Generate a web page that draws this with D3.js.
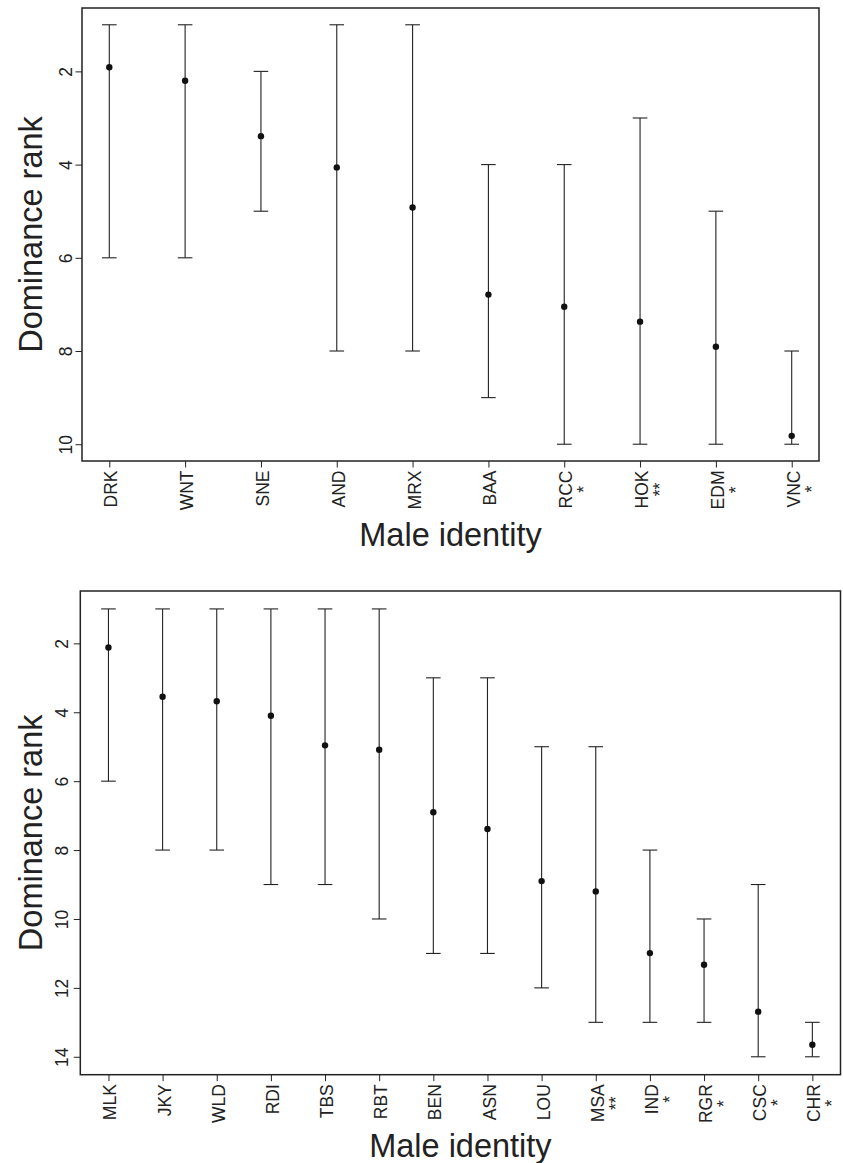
<!DOCTYPE html>
<html>
<head>
<meta charset="utf-8">
<script src="https://cdn.jsdelivr.net/npm/d3@7"></script>
<style>
  body { margin: 0; background: #fff; }
  svg { display: block; font-family: "Liberation Sans", Arial, Helvetica, sans-serif; }
</style>
</head>
<body>
<svg id="chart" width="843" height="1163"></svg>
<script>
// top panel
const topMales = ["DRK", "WNT", "SNE", "AND", "MRX", "BAA", "RCC", "HOK", "EDM", "VNC"];
const topStars = ["", "", "", "", "", "", "*", "**", "*", "*"];
const topMean  = [1.91, 2.2, 3.39, 4.06, 4.92, 6.79, 7.05, 7.37, 7.91, 9.82];
const topMin   = [1, 1, 2, 1, 1, 4, 4, 3, 5, 8];
const topMax   = [6, 6, 5, 8, 8, 9, 10, 10, 10, 10];
const topTicks = [2, 4, 6, 8, 10];

// bottom panel
const botMales = ["MLK", "JKY", "WLD", "RDI", "TBS", "RBT", "BEN", "ASN", "LOU", "MSA", "IND", "RGR", "CSC", "CHR"];
const botStars = ["", "", "", "", "", "", "", "", "", "**", "*", "*", "*", "*"];
const botMean  = [2.12, 3.55, 3.68, 4.1, 4.96, 5.09, 6.9, 7.39, 8.9, 9.2, 10.99, 11.33, 12.69, 13.65];
const botMin   = [1, 1, 1, 1, 1, 1, 3, 3, 5, 5, 8, 10, 9, 13];
const botMax   = [6, 8, 8, 9, 9, 10, 11, 11, 12, 13, 13, 13, 14, 14];
const botTicks = [2, 4, 6, 8, 10, 12, 14];

const svg = d3.select("#chart");
const ink = "#222";
const tickFont = 17.5;

function panel(cfg) {
  const n = cfg.males.length;
  const padX = 0.04 * (n - 1);
  const padY = 0.04 * (cfg.maxRank - 1);

  const x = d3.scaleLinear()
    .domain([1 - padX, n + padX])
    .range([cfg.left, cfg.right]);
  const y = d3.scaleLinear()
    .domain([1 - padY, cfg.maxRank + padY])
    .range([cfg.top, cfg.bottom]);

  const g = svg.append("g");

  // y axis
  const ya = g.append("g")
    .attr("transform", `translate(${cfg.left},0)`)
    .call(d3.axisLeft(y).tickValues(cfg.ticks).tickSize(6.5).tickSizeOuter(0));
  ya.select(".domain").remove();
  ya.selectAll(".tick line").attr("stroke", ink).attr("stroke-width", 1);
  ya.selectAll(".tick text").remove();
  ya.selectAll(".tick").append("text")
    .attr("transform", `translate(${cfg.yLabelX - cfg.left},0) rotate(-90)`)
    .attr("text-anchor", "middle")
    .attr("fill", ink)
    .attr("font-size", tickFont)
    .text(d => d);

  // x axis
  const idx = d3.range(1, n + 1);
  const xa = g.append("g")
    .attr("transform", `translate(0,${cfg.bottom})`)
    .call(d3.axisBottom(x).tickValues(idx).tickSize(6.5).tickSizeOuter(0).tickFormat(""));
  xa.select(".domain").remove();
  xa.selectAll(".tick line").attr("stroke", ink).attr("stroke-width", 1);
  xa.selectAll(".tick text").remove();

  const lab = xa.selectAll(".tick").append("g")
    .attr("transform", "translate(0,9.5) rotate(-90)");
  lab.append("text")
    .attr("text-anchor", "end")
    .attr("dy", "0.43em")
    .attr("fill", ink)
    .attr("font-size", tickFont)
    .text((d, i) => cfg.males[i]);
  lab.each(function(d, i) {
    const s = cfg.stars[i];
    if (!s) return;
    const len = this.querySelector("text").getComputedTextLength();
    d3.select(this).append("text")
      .attr("x", -len / 2)
      .attr("dy", "1.45em")
      .attr("text-anchor", "middle")
      .attr("fill", ink)
      .attr("font-size", tickFont)
      .text(s);
  });

  // error bars
  const bars = g.append("g").selectAll("g")
    .data(idx)
    .join("g");
  bars.append("line")
    .attr("x1", d => x(d)).attr("x2", d => x(d))
    .attr("y1", d => y(cfg.min[d - 1])).attr("y2", d => y(cfg.max[d - 1]))
    .attr("stroke", ink).attr("stroke-width", 1.1);
  bars.selectAll("line.cap")
    .data(d => [[d, cfg.min[d - 1]], [d, cfg.max[d - 1]]])
    .join("line")
    .attr("class", "cap")
    .attr("x1", d => x(d[0]) - 7.3).attr("x2", d => x(d[0]) + 7.3)
    .attr("y1", d => y(d[1])).attr("y2", d => y(d[1]))
    .attr("stroke", ink).attr("stroke-width", 1.1);
  bars.append("circle")
    .attr("cx", d => x(d))
    .attr("cy", d => y(cfg.mean[d - 1]))
    .attr("r", 3.2)
    .attr("fill", "#111");

  // box
  g.append("rect")
    .attr("x", cfg.left).attr("y", cfg.top)
    .attr("width", cfg.right - cfg.left)
    .attr("height", cfg.bottom - cfg.top)
    .attr("fill", "none")
    .attr("stroke", ink)
    .attr("stroke-width", 1.5);

  // titles
  g.append("text")
    .attr("x", (cfg.left + cfg.right) / 2)
    .attr("y", cfg.xTitleY)
    .attr("text-anchor", "middle")
    .attr("font-size", 32.5)
    .attr("fill", ink)
    .text("Male identity");
  g.append("text")
    .attr("transform", `translate(41.5,${(cfg.top + cfg.bottom) / 2}) rotate(-90)`)
    .attr("text-anchor", "middle")
    .attr("font-size", 32.5)
    .attr("fill", ink)
    .text("Dominance rank");
}

panel({
  males: topMales, stars: topStars, mean: topMean, min: topMin, max: topMax,
  ticks: topTicks, maxRank: 10,
  left: 82, right: 819, top: 8, bottom: 461,
  yLabelX: 71.7, xTitleY: 545.7
});

panel({
  males: botMales, stars: botStars, mean: botMean, min: botMin, max: botMax,
  ticks: botTicks, maxRank: 14,
  left: 80.3, right: 840.5, top: 591, bottom: 1074.7,
  yLabelX: 68.3, xTitleY: 1157
});
</script>
</body>
</html>
